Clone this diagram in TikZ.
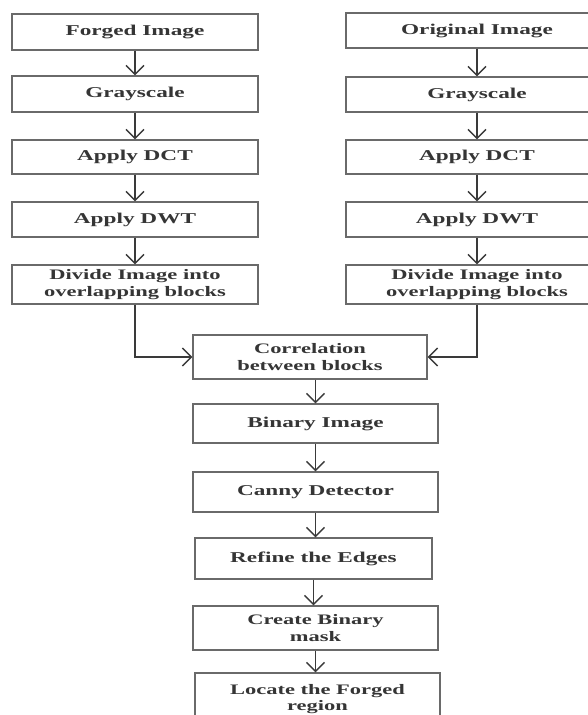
\documentclass[tikz,border=0pt]{standalone}
\usepackage{fontspec}
\setmainfont{Liberation Serif}[FakeStretch=1.55]
\usetikzlibrary{arrows.meta}
\definecolor{boxc}{HTML}{6A6A6A}
\definecolor{txtc}{HTML}{353535}
\definecolor{arrc}{HTML}{3A3A3A}
\begin{document}
\begin{tikzpicture}[x=1pt,y=-1pt,
  box/.style={draw=boxc, line width=1.4pt, fill=white, text=txtc,
    font=\bfseries\fontsize{15}{17}\selectfont, align=center, inner sep=0pt},
  twoline/.style={font=\bfseries\fontsize{14.5}{16.5}\selectfont},
  arr/.style={draw=arrc, line width=1.3pt,
    -{Straight Barb[length=9pt,width=18pt,line width=1.3pt]}}]
\fill[white] (0,0) rectangle (588,715);
\useasboundingbox (0,0) rectangle (588,715);
% left column
\node[box, minimum width=246pt, minimum height=36pt] (forged) at (135,32) {Forged Image};
\node[box, minimum width=246pt, minimum height=36pt] (grayL) at (135,94) {Grayscale};
\node[box, minimum width=246pt, minimum height=34pt] (dctL) at (135,157) {Apply DCT};
\node[box, minimum width=246pt, minimum height=35pt] (dwtL) at (135,219.5) {Apply DWT};
\node[box, twoline, minimum width=246pt, minimum height=39pt] (divL) at (135,284.5) {Divide Image into\\overlapping blocks};
% right column
\node[box, minimum width=262pt, minimum height=35pt] (orig) at (477,30.5) {Original Image};
\node[box, minimum width=262pt, minimum height=35pt] (grayR) at (477,94.5) {Grayscale};
\node[box, minimum width=262pt, minimum height=34pt] (dctR) at (477,157) {Apply DCT};
\node[box, minimum width=262pt, minimum height=35pt] (dwtR) at (477,219.5) {Apply DWT};
\node[box, twoline, minimum width=262pt, minimum height=39pt] (divR) at (477,284.5) {Divide Image into\\overlapping blocks};
% centre column
\node[box, twoline, minimum width=234pt, minimum height=44pt] (corr) at (310,357) {Correlation\\between blocks};
\node[box, minimum width=245pt, minimum height=39pt] (binary) at (315.5,423.5) {Binary Image};
\node[box, minimum width=245pt, minimum height=40pt] (canny) at (315.5,492) {Canny Detector};
\node[box, minimum width=237pt, minimum height=41pt] (refine) at (313.5,558.5) {Refine the Edges};
\node[box, twoline, minimum width=245pt, minimum height=44pt] (create) at (315.5,628) {Create Binary\\mask};
\node[box, twoline, minimum width=245pt, minimum height=52pt] (locate) at (317.5,699) {Locate the Forged\\region};
% arrows left
\draw[arr] (forged) -- (grayL);
\draw[arr] (grayL) -- (dctL);
\draw[arr] (dctL) -- (dwtL);
\draw[arr] (dwtL) -- (divL);
% arrows right
\draw[arr] (orig) -- (grayR);
\draw[arr] (grayR) -- (dctR);
\draw[arr] (dctR) -- (dwtR);
\draw[arr] (dwtR) -- (divR);
% merge
\draw[arr] (divL.south) |- (corr.west);
\draw[arr] (divR.south) |- (corr.east);
% centre arrows
\draw[arr] (binary.north |- corr.south) -- (binary.north);
\draw[arr] (binary) -- (canny);
\draw[arr] (canny.south) -- (canny.south |- refine.north);
\draw[arr] (refine.south) -- (refine.south |- create.north);
\draw[arr] (create.south) -- (create.south |- locate.north);
\end{tikzpicture}
\end{document}
